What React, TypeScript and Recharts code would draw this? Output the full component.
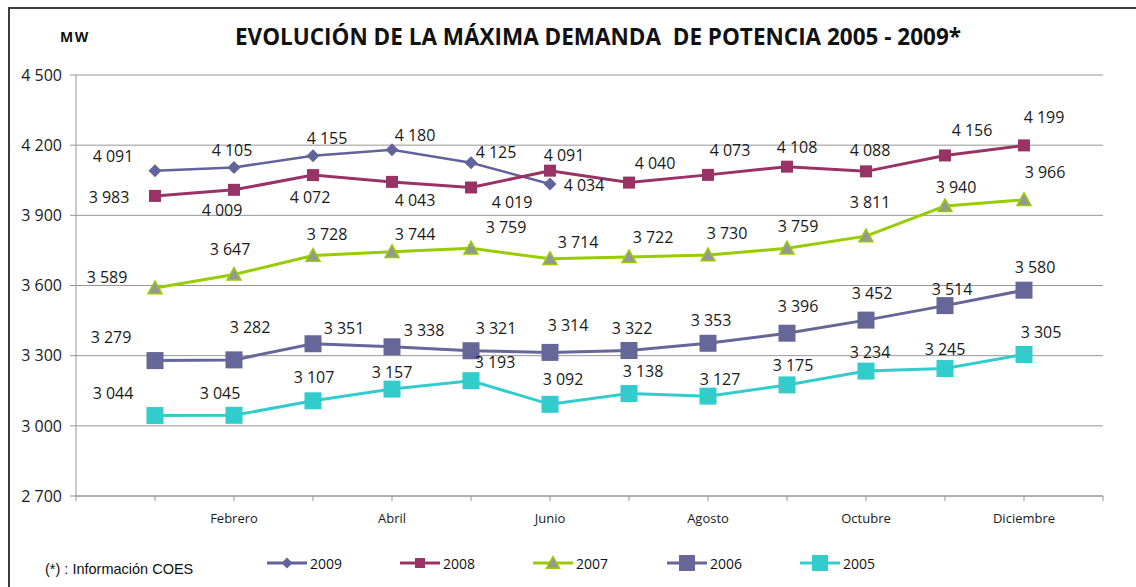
import React from "react";
import { LineChart, Line, XAxis, YAxis, CartesianGrid } from "recharts";

// Data
const MONTHS = ["Enero", "Febrero", "Marzo", "Abril", "Mayo", "Junio", "Julio", "Agosto", "Septiembre", "Octubre", "Noviembre", "Diciembre"];
const Y2009 = [4091, 4105, 4155, 4180, 4125, 4034];
const Y2008 = [3983, 4009, 4072, 4043, 4019, 4091, 4040, 4073, 4108, 4088, 4156, 4199];
const Y2007 = [3589, 3647, 3728, 3744, 3759, 3714, 3722, 3730, 3759, 3811, 3940, 3966];
const Y2006 = [3279, 3282, 3351, 3338, 3321, 3314, 3322, 3353, 3396, 3452, 3514, 3580];
const Y2005 = [3044, 3045, 3107, 3157, 3193, 3092, 3138, 3127, 3175, 3234, 3245, 3305];
const Y_TICKS = [2700, 3000, 3300, 3600, 3900, 4200, 4500];
const X_TICKS = [0, 1, 2, 3, 4, 5, 6, 7, 8, 9, 10, 11, 12, 13];

const data = MONTHS.map((m, i) => ({
  pos: i + 1,
  month: m,
  y2009: Y2009[i] ?? null,
  y2008: Y2008[i],
  y2007: Y2007[i],
  y2006: Y2006[i],
  y2005: Y2005[i],
}));

// label placement (offset from the point, like the Excel chart)
const OFF2009 = [[-42, -15], [-2, -17], [14, -18], [23, -15], [25, -11], [34, 1]];
const OFF2008 = [[-46, 1], [-12, 20], [-3, 22], [23, 18], [41, 14], [14, -16], [26, -20], [22, -25], [10, -20], [4, -21], [27, -25], [20, -28]];
const OFF2007 = [[-48, -11], [-4, -26], [14, -22], [23, -18], [35, -21], [28, -17], [24, -20], [19, -22], [11, -22], [4, -34], [11, -19], [21, -28]];
const OFF2006 = [[-44, -24], [16, -33], [31, -16], [32, -17], [25, -23], [18, -27], [3, -23], [3, -23], [11, -27], [6, -27], [7, -17], [11, -23]];
const OFF2005 = [[-42, -23], [-14, -22], [1, -24], [0, -17], [24, -19], [13, -25], [14, -23], [12, -17], [6, -20], [4, -19], [0, -20], [17, -22]];

const fmt = (v: number) => `${Math.floor(v / 1000)} ${String(v % 1000).padStart(3, "0")}`;

const FONT = "'Open Sans', sans-serif";
const GRID = "#969696";

const makeLabel = (offsets: number[][]) => (p: any) => {
  if (p.value == null || p.x == null || p.y == null) return null;
  const o = offsets[p.index] || [0, -18];
  return (
    <text
      key={`lb-${p.index}`}
      x={p.x + o[0]}
      y={p.y + o[1]}
      textAnchor="middle"
      dominantBaseline="central"
      fontFamily={FONT}
      fontSize={16}
      fill="#1a1a1a"
    >
      {fmt(p.value)}
    </text>
  );
};

const square = (fill: string, size: number) => (p: any) => {
  if (p.cy == null || p.value == null) return <g key={p.key} />;
  return <rect key={p.key} x={p.cx - size / 2} y={p.cy - size / 2} width={size} height={size} fill={fill} />;
};

const diamond = (fill: string, size: number) => (p: any) => {
  if (p.cy == null || p.value == null) return <g key={p.key} />;
  const h = size / 2;
  return <polygon key={p.key} points={`${p.cx},${p.cy - h} ${p.cx + h},${p.cy} ${p.cx},${p.cy + h} ${p.cx - h},${p.cy}`} fill={fill} />;
};

const triangle = (fill: string, stroke: string, size: number) => (p: any) => {
  if (p.cy == null || p.value == null) return <g key={p.key} />;
  const h = size / 2;
  return (
    <polygon
      key={p.key}
      points={`${p.cx},${p.cy - h} ${p.cx + h},${p.cy + h * 0.8} ${p.cx - h},${p.cy + h * 0.8}`}
      fill={fill}
      stroke={stroke}
      strokeWidth={1.5}
    />
  );
};

const legendItems = [
  { name: "2009", color: "#63639c", left: 267, mark: "diamond", size: 11 },
  { name: "2008", color: "#993366", left: 400, mark: "square", size: 10 },
  { name: "2007", color: "#99cc00", left: 533, mark: "triangle", size: 13 },
  { name: "2006", color: "#666699", left: 667, mark: "square", size: 16 },
  { name: "2005", color: "#33cccc", left: 800, mark: "square", size: 16 },
];

const LegendIcon = ({ item }: { item: any }) => {
  const c = 20, m = 10, h = item.size / 2;
  let mark = null;
  if (item.mark === "diamond") mark = <polygon points={`${c},${m - h} ${c + h},${m} ${c},${m + h} ${c - h},${m}`} fill={item.color} />;
  else if (item.mark === "triangle") mark = <polygon points={`${c},${m - h} ${c + h},${m + h * 0.8} ${c - h},${m + h * 0.8}`} fill="#969696" stroke="#99cc00" strokeWidth={1.5} />;
  else mark = <rect x={c - h} y={m - h} width={item.size} height={item.size} fill={item.color} />;
  return (
    <svg width={40} height={20} style={{ display: "block" }}>
      <line x1={0} x2={40} y1={m} y2={m} stroke={item.color} strokeWidth={3} />
      {mark}
    </svg>
  );
};

export default function App() {
  return (
    <div style={{ position: "absolute", left: 0, top: 0, width: 1136, height: 587, overflow: "hidden", background: "#fff" }}>
      <div style={{ position: "absolute", left: 8, top: 7, width: 1160, height: 620, borderTop: "2px solid #3c3c3c", borderLeft: "2px solid #3c3c3c" }} />

      <div style={{ position: "absolute", left: 0, width: 1196, top: 21, textAlign: "center", fontFamily: FONT, fontWeight: 700, fontSize: 22.5, whiteSpace: "pre", color: "#111" }}>
        EVOLUCIÓN DE LA MÁXIMA DEMANDA  DE POTENCIA 2005 - 2009*
      </div>
      <div style={{ position: "absolute", left: 60, top: 27, fontFamily: FONT, fontWeight: 700, fontSize: 14, letterSpacing: 1.5, color: "#111" }}>MW</div>

      <div style={{ position: "absolute", left: 0, top: 0 }}>
        <LineChart width={1136} height={587} data={data} margin={{ top: 75, right: 33, left: 10, bottom: 61 }}>
          <CartesianGrid vertical={false} stroke={GRID} strokeWidth={1} />
          <XAxis
            dataKey="pos"
            type="number"
            domain={[0, 13]}
            ticks={X_TICKS}
            interval={0}
            height={30}
            stroke={GRID}
            tickSize={5}
            tickMargin={13}
            tickFormatter={(v: number) => (v % 2 === 0 && v > 0 && v <= 12 ? MONTHS[v - 1] : "")}
            tick={{ fill: "#1a1a1a", fontSize: 13, fontFamily: FONT }}
          />
          <YAxis
            type="number"
            domain={[2700, 4500]}
            ticks={Y_TICKS}
            width={66}
            stroke={GRID}
            tickSize={6}
            tickMargin={8}
            tickFormatter={fmt}
            tick={{ fill: "#1a1a1a", fontSize: 16, fontFamily: FONT }}
          />
          <Line dataKey="y2009" stroke="#63639c" strokeWidth={2.5} dot={diamond("#63639c", 13)} label={makeLabel(OFF2009)} isAnimationActive={false} />
          <Line dataKey="y2008" stroke="#993366" strokeWidth={3} dot={square("#993366", 12)} label={makeLabel(OFF2008)} isAnimationActive={false} />
          <Line dataKey="y2007" stroke="#99cc00" strokeWidth={3} dot={triangle("#969696", "#99cc00", 14)} label={makeLabel(OFF2007)} isAnimationActive={false} />
          <Line dataKey="y2006" stroke="#666699" strokeWidth={3} dot={square("#666699", 17)} label={makeLabel(OFF2006)} isAnimationActive={false} />
          <Line dataKey="y2005" stroke="#33cccc" strokeWidth={3} dot={square("#33cccc", 17)} label={makeLabel(OFF2005)} isAnimationActive={false} />
        </LineChart>
      </div>

      <div style={{ position: "absolute", left: 45, top: 561, fontFamily: "'Liberation Sans', Arial, sans-serif", fontSize: 14.5, color: "#111" }}>
        (*) : Información COES
      </div>
      {legendItems.map((it) => (
        <div key={it.name} style={{ position: "absolute", left: it.left, top: 553, display: "flex", alignItems: "center", gap: 3 }}>
          <LegendIcon item={it} />
          <span style={{ fontFamily: FONT, fontSize: 14, color: "#111" }}>{it.name}</span>
        </div>
      ))}
    </div>
  );
}
